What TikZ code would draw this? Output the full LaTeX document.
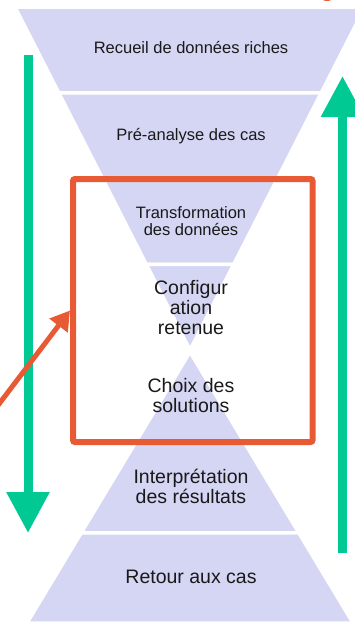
\documentclass[tikz,border=0pt]{standalone}
\usepackage{fontspec}
\setmainfont{Liberation Sans}
\usetikzlibrary{arrows.meta,calc}

\definecolor{lav}{RGB}{213,213,244}
\definecolor{flowgreen}{RGB}{0,201,148}
\definecolor{boxred}{RGB}{232,90,52}

\begin{document}
\begin{tikzpicture}[x=1pt,y=-1pt,
    layer/.style={fill=lav,draw=white,line width=3.5pt,line join=round},
    small/.style={font=\fontsize{16.5}{16.7}\selectfont,align=center,anchor=base,text=black!90},
    big/.style={font=\fontsize{19.5}{20}\selectfont,align=center,anchor=base,text=black!90},
    flow/.style={flowgreen,line width=9pt,-{Triangle[length=41pt,width=41pt]}},
    pointer/.style={boxred,line width=5pt,-{Triangle[length=19pt,width=22pt]}}]
    \useasboundingbox (0,0) rectangle (355,627);

    % funnel and pyramid
    \coordinate (ftl) at (15,7);
    \coordinate (ftr) at (365,7);
    \coordinate (fap) at (190,350);
    \coordinate (bbl) at (27,623);
    \coordinate (bbr) at (353,623);
    \coordinate (bap) at (190,352);

    \fill[layer] (ftl) -- (ftr) -- ($(ftr)!.25!(fap)$) -- ($(ftl)!.25!(fap)$) -- cycle;
    \fill[layer] ($(ftl)!.25!(fap)$) -- ($(ftr)!.25!(fap)$) -- ($(ftr)!.5!(fap)$) -- ($(ftl)!.5!(fap)$) -- cycle;
    \fill[layer] ($(ftl)!.5!(fap)$) -- ($(ftr)!.5!(fap)$) -- ($(ftr)!.75!(fap)$) -- ($(ftl)!.75!(fap)$) -- cycle;
    \fill[layer] ($(ftl)!.75!(fap)$) -- ($(ftr)!.75!(fap)$) -- (fap) -- cycle;

    \fill[layer] (bap) -- ($(bap)!.333!(bbr)$) -- ($(bap)!.333!(bbl)$) -- cycle;
    \fill[layer] ($(bap)!.333!(bbl)$) -- ($(bap)!.333!(bbr)$) -- ($(bap)!.667!(bbr)$) -- ($(bap)!.667!(bbl)$) -- cycle;
    \fill[layer] ($(bap)!.667!(bbl)$) -- ($(bap)!.667!(bbr)$) -- (bbr) -- (bbl) -- cycle;

    % orange mark cut by the top edge
    \fill[boxred] (327,-4) ellipse (7pt and 5pt);

    % green arrows
    \coordinate (downstart) at (28,55);
    \coordinate (downend) at (28,533);
    \coordinate (upstart) at (342.5,553);
    \coordinate (upend) at (342.5,76);
    \draw[flow] (downstart) -- (downend);
    \draw[flow] (upstart) -- (upend);

    % red frame
    \node (zone) at (192.75,310.5) [draw=boxred,line width=6pt,rounded corners=2pt,minimum width=239.5pt,minimum height=263pt,inner sep=0pt] {};
    \coordinate (source) at (-20,429);
    \draw[pointer] (source) -- (zone.west);

    % labels (base = last line)
    \node[small] (recueil) at (191,53) {Recueil de données riches};
    \node[small] (preanalyse) at (191,140) {Pré-analyse des cas};
    \node[small] (transfo) at (191,235) {Transformation\\des données};
    \node[big] (config) at (191,334) {Configur\\ation\\retenue};
    \node[big] (choix) at (191,412) {Choix des\\solutions};
    \node[big] (interp) at (191,503) {Interprétation\\des résultats};
    \node[big] (retour) at (191,583) {Retour aux cas};
\end{tikzpicture}
\end{document}
